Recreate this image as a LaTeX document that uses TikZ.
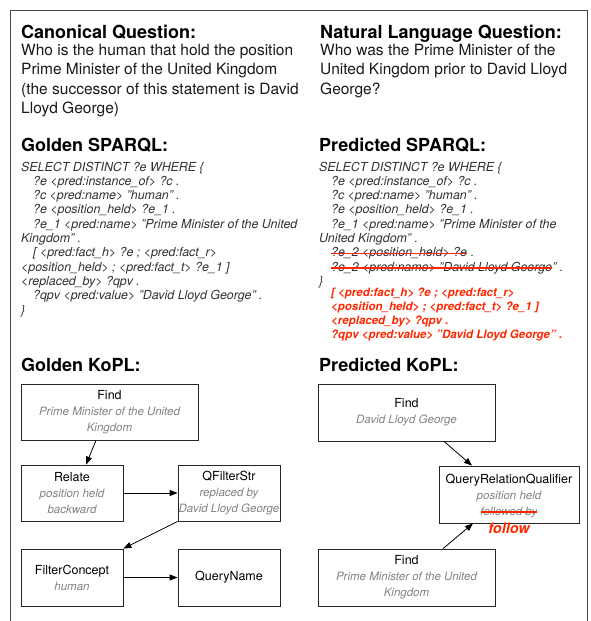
\documentclass[tikz,border=0pt]{standalone}
\usepackage{fontspec}
\setmainfont{TeX Gyre Heros}
\usetikzlibrary{arrows.meta,calc}
\definecolor{kred}{RGB}{255,38,0}
\definecolor{kgray}{RGB}{130,130,130}
\definecolor{codegray}{RGB}{50,50,50}
\definecolor{framegray}{RGB}{70,70,70}
\newcommand{\kit}[1]{{\fontsize{11.5}{16}\selectfont\itshape\color{kgray}#1}}
\begin{document}
\begin{tikzpicture}[x=1pt,y=-1pt,
  heading/.style={anchor=base west, inner sep=0pt, font=\fontsize{18}{21}\selectfont\bfseries},
  body/.style={anchor=base west, inner sep=0pt, font=\fontsize{15.5}{19}\selectfont, text=black!90},
  code/.style={anchor=base west, inner sep=0pt, font=\fontsize{12.4}{14}\selectfont\itshape, text=codegray},
  redcode/.style={anchor=base west, inner sep=0pt, font=\fontsize{11.5}{14}\selectfont\bfseries\itshape, text=kred},
  strike/.style={draw=kred, line width=1.8pt},
  kbox/.style={draw=black!85, line width=0.8pt, rectangle, inner sep=0pt, align=center, font=\fontsize{12.5}{16}\selectfont},
  ktext/.style={anchor=base, inner sep=0pt, font=\fontsize{12.5}{16}\selectfont},
  arr/.style={-{Triangle[length=8pt,width=6pt]}, line width=0.8pt},
]
\useasboundingbox (0,0) rectangle (591,621);
\fill[white] (0,0) rectangle (591,621);
% frame
\draw[framegray, line width=1pt] (10,622) -- (10,10) -- (587,10) -- (587,622);

% ---- questions
\node[heading] (hcq) at (21,38.5) {Canonical Question:};
\node[body] (q1) at (21,55) {Who is the human that hold the position};
\node[body] (q2) at (21,74.5) {Prime Minister of the United Kingdom};
\node[body] (q3) at (21,94) {(the successor of this statement is David};
\node[body] (q4) at (21,113.5) {Lloyd George)};

\node[heading] (hnl) at (320,38.5) {Natural Language Question:};
\node[body] (n1) at (320,55) {Who was the Prime Minister of the};
\node[body] (n2) at (320,74.5) {United Kingdom prior to David Lloyd};
\node[body] (n3) at (320,94) {George?};

% ---- SPARQL
\node[heading] (hgs) at (21,151) {Golden SPARQL:};
\node[code] (c1) at (21,171) {SELECT DISTINCT ?e WHERE \{};
\node[code] (c2) at (33,185.3) {?e <pred:instance\_of> ?c .};
\node[code] (c3) at (33,199.6) {?c <pred:name> "human" .};
\node[code] (c4) at (33,213.9) {?e <position\_held> ?e\_1 .};
\node[code] (c5) at (33,228.2) {?e\_1 <pred:name> "Prime Minister of the United};
\node[code] (c6) at (21,242.5) {Kingdom" .};
\node[code] (c7) at (33,256.8) {[ <pred:fact\_h> ?e ; <pred:fact\_r>};
\node[code] (c8) at (21,271.1) {<position\_held> ; <pred:fact\_t> ?e\_1 ]};
\node[code] (c9) at (21,285.4) {<replaced\_by> ?qpv .};
\node[code] (c10) at (33,299.7) {?qpv <pred:value> "David Lloyd George" .};
\node[code] (c11) at (21,314) {\}};

\node[heading] (hps) at (319,151) {Predicted SPARQL:};
\node[code] (p1) at (319,171) {SELECT DISTINCT ?e WHERE \{};
\node[code] (p2) at (331,185.3) {?e <pred:instance\_of> ?c .};
\node[code] (p3) at (331,199.6) {?c <pred:name> "human" .};
\node[code] (p4) at (331,213.9) {?e <position\_held> ?e\_1 .};
\node[code] (p5) at (331,228.2) {?e\_1 <pred:name> "Prime Minister of the};
\node[code] (p6) at (319,242.5) {United Kingdom" .};
\node[code] (p7s) at (331,256.8) {?e\_2 <position\_held> ?e};
\node[code] (p7e) at (p7s.base east) {\ .};
\node[code] (p8s) at (331,271.1) {?e\_2 <pred:name> "David Lloyd George};
\node[code] (p8e) at (p8s.base east) {" .};
\node[code] (p9) at (319,285.4) {\}};
\draw[strike] (p7s.west) -- (p7s.east);
\draw[strike] (p8s.west) -- (p8s.east);
\node[redcode] (r1) at (331,296) {[ <pred:fact\_h> ?e ; <pred:fact\_r>};
\node[redcode] (r2) at (331,310) {<position\_held> ; <pred:fact\_t> ?e\_1 ]};
\node[redcode] (r3) at (331,324) {<replaced\_by> ?qpv .};
\node[redcode] (r4) at (331,338) {?qpv <pred:value> "David Lloyd George" .};

% ---- KoPL
\node[heading] (hgk) at (21,371) {Golden KoPL:};
\node[heading] (hpk) at (319,371) {Predicted KoPL:};

\node[kbox, minimum width=177pt, minimum height=56pt] (gfind) at (109.5,412)
  {Find\\\kit{Prime Minister of the United}\\\kit{Kingdom}};
\node[kbox, minimum width=102pt, minimum height=56pt] (relate) at (72,493)
  {Relate\\\kit{position held}\\\kit{backward}};
\node[kbox, minimum width=102pt, minimum height=56pt] (qfilter) at (229,493)
  {QFilterStr\\\kit{replaced by}\\\kit{David Lloyd George}};
\node[kbox, minimum width=102pt, minimum height=57pt] (fconcept) at (72,577.5)
  {FilterConcept\\\kit{human}};
\node[kbox, minimum width=102pt, minimum height=57pt] (qname) at (229,577.5)
  {QueryName};

\draw[arr] ([xshift=-13.5pt]gfind.south) -- ([xshift=14pt]relate.north);
\draw[arr] (relate.east) -- (qfilter.west);
\draw[arr] (qfilter.south west) -- (fconcept.north east);
\draw[arr] (fconcept.east) -- (qname.west);

\node[kbox, minimum width=177pt, minimum height=57pt] (pfind1) at (406.5,412.5)
  {Find\\\kit{David Lloyd George}};
\node[kbox, minimum width=140pt, minimum height=57pt] (qrq) at (509,494.5) {};
\node[ktext] (qrqa) at (509,483) {QueryRelationQualifier};
\node[ktext] (qrqb) at (509,499) {\kit{position held}};
\node[ktext] (qrqc) at (509,515) {\kit{followed by}};
\draw[kred, line width=1.3pt] (qrqc.west) -- (qrqc.east);
\node[anchor=base, inner sep=0pt, font=\fontsize{14.5}{16}\selectfont\bfseries\itshape, text=kred] (qrqd) at (509,533) {follow};
\node[kbox, minimum width=177pt, minimum height=57pt] (pfind2) at (406.5,577.5)
  {Find\\\kit{Prime Minister of the United}\\\kit{Kingdom}};

\draw[arr] ([xshift=37.5pt]pfind1.south) -- ([xshift=-37pt]qrq.north);
\draw[arr] ([xshift=36.5pt]pfind2.north) -- ([xshift=-36pt]qrq.south);
\end{tikzpicture}
\end{document}
